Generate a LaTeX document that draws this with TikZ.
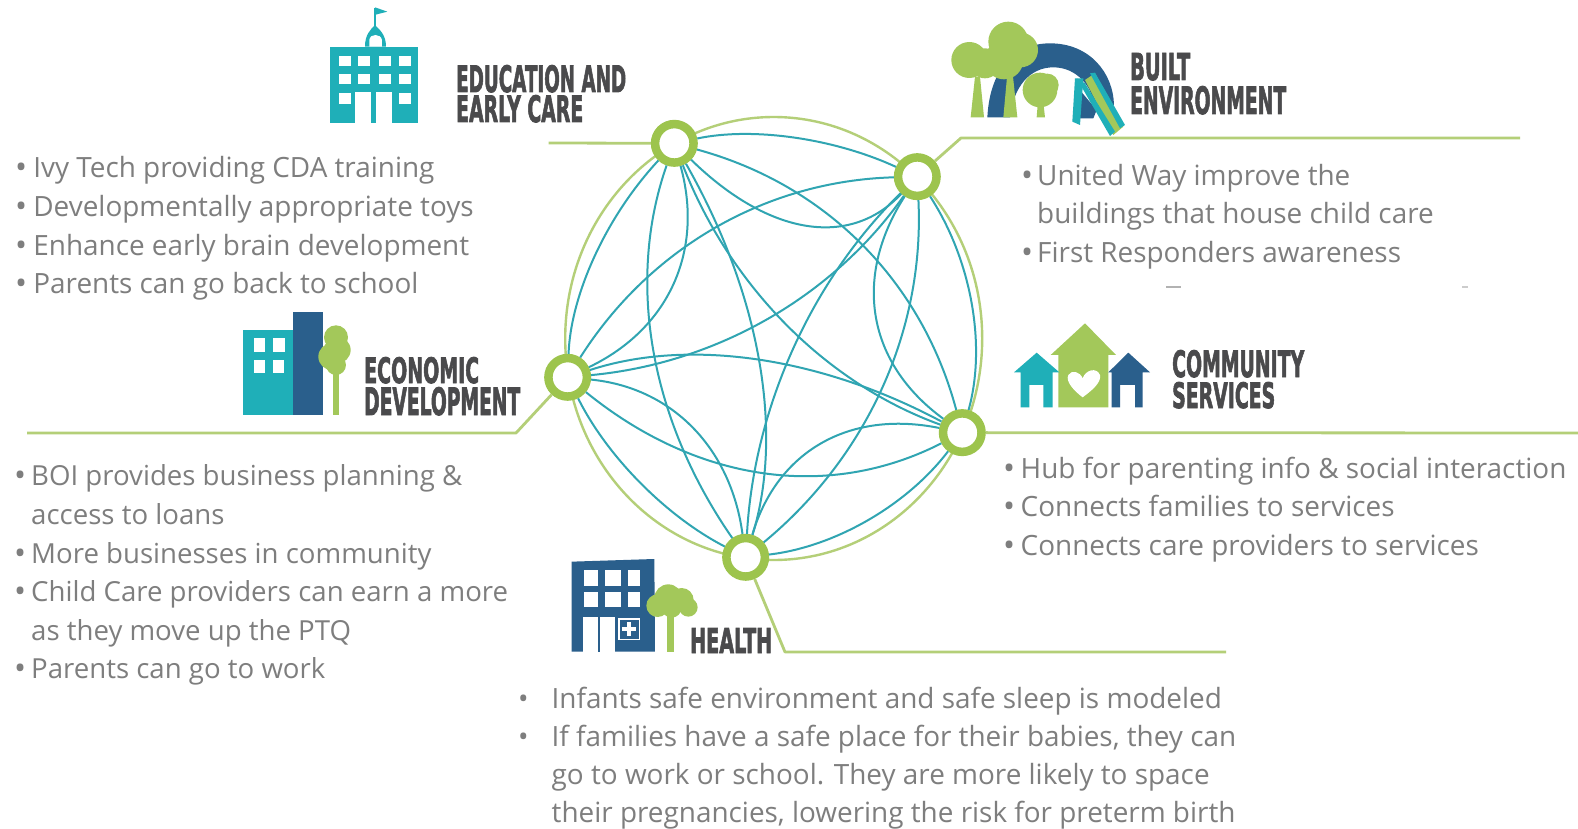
\documentclass[tikz,border=0pt]{standalone}
\usepackage{fontspec}
\usepackage{graphicx}
\usetikzlibrary{calc}
\setmainfont{Open Sans}
\newfontfamily\headfont[FakeBold=2.5]{DejaVu Sans Bold}
\definecolor{ringgreen}{HTML}{9DC44D}
\definecolor{linegreen}{HTML}{B4CF78}
\definecolor{treegreen}{HTML}{A3C85A}
\definecolor{linkteal}{HTML}{30A5B2}
\definecolor{iconteal}{HTML}{1FAFB8}
\definecolor{iconblue}{HTML}{2A5F8C}
\definecolor{txtgray}{HTML}{7E7E7E}
\definecolor{headgray}{HTML}{4A4A4C}
\tikzset{
  hub/.style={circle,draw=ringgreen,line width=8.5pt,fill=white,minimum size=38.5pt,inner sep=0pt},
  link/.style={draw=linkteal,line width=2pt},
  leader/.style={draw=linegreen,line width=2.8pt,line join=round},
  txt/.style={anchor=base west,inner sep=0pt,text=txtgray,font=\fontsize{27.9}{30}\selectfont},
  txtb/.style={txt,font=\fontsize{27.6}{30}\selectfont},
  bul/.style={anchor=base west,inner sep=0pt,text=txtgray,font=\fontsize{32}{30}\selectfont},
  head/.style={anchor=base west,inner sep=0pt,text=headgray},
  zoomed/.style={x=0.3333pt,y=-0.3333pt}
}
\newcommand{\hd}[3]{\resizebox{#1pt}{#2pt}{\headfont #3}}
\newcommand{\lnk}[4]{\draw[link] (#1) .. controls ($(#1)!.667!(#3,#4)$) and ($(#2)!.667!(#3,#4)$) .. (#2);}
\begin{document}
\begin{tikzpicture}[x=1pt,y=-1pt]
\useasboundingbox (0,0) rectangle (1578,829);
\fill[white] (0,0) rectangle (1578,829);

% big ring
\draw[draw=linegreen,line width=2.4pt] (773.7,338.5) ellipse [x radius=208.5pt,y radius=221.5pt];

% hubs
\begin{scope}[shift={(530,100)},zoomed]
\node[hub] (E) at (433,130) {};
\node[hub] (B) at (1162,230) {};
\node[hub] (C) at (1297,998) {};
\node[hub] (H) at (647,1372) {};
\node[hub] (D) at (113,832) {};

\lnk{E}{B}{783}{56}
\lnk{E}{B}{863}{550}
\lnk{E}{C}{1115}{316}
\lnk{E}{C}{685}{776}
\lnk{E}{H}{820}{809}
\lnk{E}{H}{216}{751}
\lnk{E}{D}{127}{459}
\lnk{E}{D}{567}{615}
\lnk{B}{D}{483}{249}
\lnk{B}{D}{783}{769}
\lnk{B}{C}{1406}{606}
\lnk{B}{C}{870}{686}
\lnk{B}{H}{1195}{919}
\lnk{B}{H}{685}{699}
\lnk{C}{D}{655}{655}
\lnk{C}{D}{695}{1305}
\lnk{C}{H}{1048}{1325}
\lnk{C}{H}{788}{895}
\lnk{D}{H}{580}{878}
\lnk{D}{H}{290}{1188}
\end{scope}

% leaders
\coordinate (e1) at (548.5,143);
\coordinate (b1) at (961,138); \coordinate (b2) at (1520,138);
\coordinate (d1) at (516,433); \coordinate (d2) at (27,433);
\coordinate (c1) at (1578,433);
\coordinate (h1) at (785,652); \coordinate (h2) at (1226,652);
\draw[leader] (E) -- (e1);
\draw[leader] (B) -- (b1) -- (b2);
\draw[leader] (D) -- (d1) -- (d2);
\draw[leader] (C) -- (c1);
\draw[leader] (H) -- (h1) -- (h2);

% Education icon
\begin{scope}[shift={(310,0)},zoomed]
\fill[iconteal] (60,140) rectangle (325,370);
\fill[iconteal] (165,140) .. controls (165,105) and (180,90) .. (195,75) .. controls (210,90) and (228,105) .. (228,140) -- cycle;
\draw[iconteal,line width=1.6pt] (195,78) -- (195,25);
\fill[iconteal] (195,22) -- (232,35) -- (197,44) -- cycle;
\fill[white] (178,140) -- (178,120) .. controls (180,100) and (212,100) .. (216,120) -- (216,140) -- cycle;
\foreach \xa in {88,145,208,268} {\foreach \ya in {168,222} {\fill[white] (\xa,\ya) rectangle ++(35,31);}}
\fill[white] (88,280) rectangle ++(35,31);
\fill[white] (268,280) rectangle ++(35,31);
\fill[white] (135,370) -- (135,275) -- (183,275) -- (183,370) -- cycle;
\fill[white] (198,370) -- (198,275) -- (245,275) -- (245,370) -- cycle;
\end{scope}

% Built environment icon
\begin{scope}[shift={(930,10)},zoomed]
\fill[iconblue] (172,322) .. controls (180,170) and (260,100) .. (360,100) .. controls (480,100) and (550,190) .. (552,285) -- (495,300) .. controls (490,230) and (440,172) .. (370,172) .. controls (300,172) and (250,230) .. (240,322) -- cycle;
\fill[iconblue] (445,235) -- (500,300) -- (490,325) -- (450,325) -- cycle;
\fill[treegreen] (122,322) -- (135,200) -- (150,200) -- (162,322) -- cycle;
\fill[treegreen] (220,322) -- (232,190) -- (248,190) -- (262,322) -- cycle;
\fill[treegreen] (118,150) circle[radius=54];
\fill[treegreen] (165,160) circle[radius=45];
\fill[treegreen] (235,95) circle[radius=60];
\fill[treegreen] (272,120) circle[radius=52];
\fill[treegreen] (222,150) circle[radius=58];
\fill[treegreen] (320,322) -- (325,260) -- (338,260) -- (345,322) -- cycle;
\fill[treegreen] (330,240) circle[radius=52];
\fill[treegreen] (352,225) circle[radius=34];
\fill[iconteal] (435,205) -- (460,205) -- (450,345) -- (427,335) -- cycle;
\fill[treegreen] (465,210) -- (495,190) -- (580,350) -- (550,375) -- cycle;
\fill[iconteal] (440,205) -- (465,220) -- (555,365) -- (540,378) -- cycle;
\fill[iconteal] (480,190) -- (495,188) -- (585,345) -- (570,355) -- cycle;
\end{scope}

% Economic icon
\begin{scope}[shift={(230,300)},zoomed]
\fill[iconteal] (40,90) rectangle (195,345);
\fill[iconblue] (190,36) rectangle (280,345);
\fill[white] (72,115) rectangle (106,155);
\fill[white] (130,115) rectangle (166,155);
\fill[white] (72,180) rectangle (106,218);
\fill[white] (128,180) rectangle (162,218);
\fill[treegreen] (308,210) rectangle (326,345);
\fill[treegreen] (318,112) circle[radius=36];
\fill[treegreen] (322,150) circle[radius=40];
\fill[treegreen] (305,170) circle[radius=40];
\fill[treegreen] (318,195) circle[radius=30];
\end{scope}

% Community icon
\begin{scope}[shift={(1000,310)},zoomed]
\fill[treegreen] (152,135) -- (255,40) -- (348,135) -- (325,135) -- (325,292) -- (175,292) -- (175,135) -- cycle;
\fill[iconteal] (42,187) -- (110,128) -- (178,187) -- (158,187) -- (158,292) -- (130,292) -- (130,225) -- (88,225) -- (88,292) -- (62,292) -- (62,187) -- cycle;
\fill[iconblue] (325,187) -- (385,128) -- (450,187) -- (428,187) -- (428,292) -- (405,292) -- (405,225) -- (360,225) -- (360,292) -- (335,292) -- (335,187) -- cycle;
\fill[white] (248,262) .. controls (225,245) and (195,215) .. (205,195) .. controls (215,178) and (240,185) .. (248,205) .. controls (256,180) and (290,170) .. (300,195) .. controls (305,220) and (270,245) .. (248,262) -- cycle;
\end{scope}

% Health icon
\begin{scope}[shift={(555,545)},zoomed]
\fill[iconblue] (50,50) -- (298,42) -- (300,320) -- (50,320) -- cycle;
\foreach \xa/\wa in {88/42,150/48,218/37} {\foreach \ya/\ha in {76/48,140/46} {\fill[white] (\xa,\ya) rectangle ++(\wa,\ha);}}
\fill[white] (85,215) rectangle (180,322);
\fill[iconblue] (128,215) rectangle (136,322);
\draw[white,line width=1.4pt] (192,222) rectangle (254,284);
\fill[white] (217,232) rectangle (229,274);
\fill[white] (202,247) rectangle (244,259);
\fill[treegreen] (335,200) -- (358,200) -- (358,320) -- (335,320) -- cycle;
\fill[treegreen] (340,160) circle[radius=42];
\fill[treegreen] (308,182) circle[radius=34];
\fill[treegreen] (380,165) circle[radius=36];
\fill[treegreen] (400,187) circle[radius=28];
\fill[treegreen] (350,188) circle[radius=30];
\end{scope}

% headings
\node[head] (h1a) at (456,92) {\hd{170}{27}{EDUCATION AND}};
\node[head] (h1b) at (456,122) {\hd{127}{27}{EARLY CARE}};
\node[head] (h2a) at (1130,80) {\hd{60}{27}{BUILT}};
\node[head] (h2b) at (1130,114) {\hd{156}{28}{ENVIRONMENT}};
\node[head] (h3a) at (364,383) {\hd{115}{26}{ECONOMIC}};
\node[head] (h3b) at (364,415) {\hd{156}{28}{DEVELOPMENT}};
\node[head] (h4a) at (1172,377) {\hd{132}{27}{COMMUNITY}};
\node[head] (h4b) at (1172,408) {\hd{103}{26}{SERVICES}};
\node[head] (h5a) at (690,653) {\hd{82}{25}{HEALTH}};

\begin{scope}[yshift=-0.8pt]
% Education text
\node[bul] (b1a) at (15,178) {•};
\node[txt] (t1a) at (33.2,177) {Ivy Tech providing CDA training};
\node[bul] (b1b) at (15,217) {•};
\node[txt] (t1b) at (33.2,216) {Developmentally appropriate toys};
\node[bul] (b1c) at (15,255.5) {•};
\node[txt] (t1c) at (33.2,254.5) {Enhance early brain development};
\node[bul] (b1d) at (15,294) {•};
\node[txt] (t1d) at (33.2,293) {Parents can go back to school};

% Built text
\node[bul] (b2a) at (1021,186) {•};
\node[txt] (t2a) at (1037,185) {United Way improve the};
\node[txt] (t2b) at (1037,223) {buildings that house child care};
\node[bul] (b2b) at (1021,263) {•};
\node[txt] (t2c) at (1037,262) {First Responders awareness};

% Economic text
\node[bul] (b3a) at (14,486) {•};
\node[txtb] (t3a) at (31,485) {BOI provides business planning \&};
\node[txtb] (t3b) at (31,524) {access to loans};
\node[bul] (b3b) at (14,564) {•};
\node[txtb] (t3c) at (31,563) {More businesses in community};
\node[bul] (b3c) at (14,602) {•};
\node[txtb] (t3d) at (31,601) {Child Care providers can earn a more};
\node[txtb] (t3e) at (31,640) {as they move up the PTQ};
\node[bul] (b3d) at (14,679) {•};
\node[txtb] (t3f) at (31,678) {Parents can go to work};

% Community text
\node[bul] (b4a) at (1003,479) {•};
\node[txt] (t4a) at (1020.5,478) {Hub for parenting info \& social interaction};
\node[bul] (b4b) at (1003,517) {•};
\node[txt] (t4b) at (1020.5,516) {Connects families to services};
\node[bul] (b4c) at (1003,556) {•};
\node[txt] (t4c) at (1020.5,555) {Connects care providers to services};

% Health text
\node[txt] (b5a) at (518,708) {•};
\node[txt] (t5a) at (551.5,708) {Infants safe environment and safe sleep is modeled};
\node[txt] (b5b) at (518,746) {•};
\node[txt] (t5b) at (551.5,746) {If families have a safe place for their babies, they can};
\node[txt] (t5c) at (551.5,784) {go to work or school.  They are more likely to space};
\node[txt] (t5d) at (551.5,822) {their pregnancies, lowering the risk for preterm birth};
\end{scope}

\fill[gray!60] (1166,286) rectangle (1181,287.5);
\fill[gray!40] (1462,286) rectangle (1468,287.5);
\end{tikzpicture}
\end{document}
